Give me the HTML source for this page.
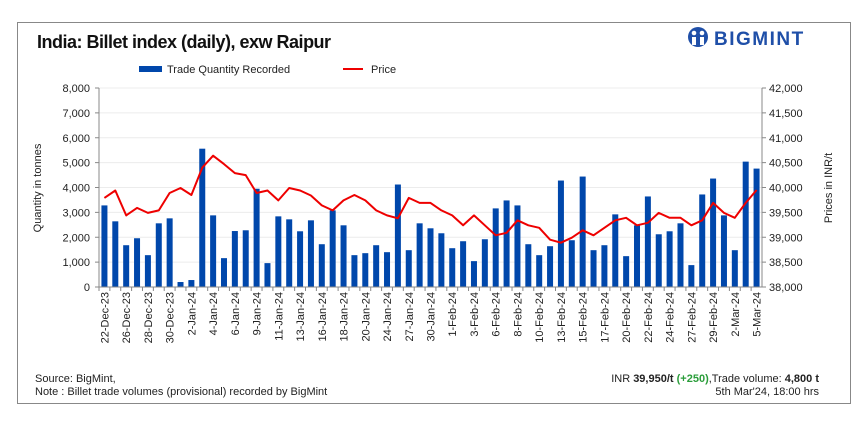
<!DOCTYPE html>
<html><head><meta charset="utf-8"><style>
body{margin:0;background:#fff;font-family:"Liberation Sans",sans-serif;}
svg text{font-family:"Liberation Sans",sans-serif;}
</style></head><body>
<svg id="chart" width="865" height="430" xmlns="http://www.w3.org/2000/svg">
<rect x="17.5" y="22.5" width="833" height="381" fill="#fff" stroke="#888" stroke-width="1"/>
<text x="37" y="48" font-size="18" font-weight="bold" fill="#111" letter-spacing="-0.5">India: Billet index (daily), exw Raipur</text>
<g>
<circle cx="698" cy="37" r="10" fill="#1f4fa8"/>
<circle cx="694" cy="33" r="2.3" fill="#fff"/><circle cx="702" cy="33" r="2.3" fill="#fff"/>
<rect x="692" y="37" width="4" height="8" fill="#fff"/><rect x="700" y="37" width="4" height="8" fill="#fff"/>
<text x="714" y="45" font-size="19" font-weight="bold" fill="#1f4fa8" letter-spacing="1.5">BIGMINT</text>
</g>
<g>
<rect x="139" y="66" width="23" height="6" fill="#0047ab"/>
<text x="167" y="73" font-size="11" fill="#222">Trade Quantity Recorded</text>
<rect x="343" y="68" width="20" height="2" fill="#e00"/>
<text x="371" y="73" font-size="11" fill="#222">Price</text>
</g>
<g id="grid"></g><g id="bars"></g><g id="axes"></g><g id="line"></g>
<text transform="translate(41,188) rotate(-90)" text-anchor="middle" font-size="11" fill="#222">Quantity in tonnes</text>
<text transform="translate(832,188) rotate(-90)" text-anchor="middle" font-size="11" fill="#222">Prices in INR/t</text>
<text x="35" y="382" font-size="11" fill="#222">Source: BigMint,</text>
<text x="35" y="395" font-size="11" fill="#222">Note : Billet trade volumes (provisional) recorded by BigMint</text>
<text x="819" y="382" text-anchor="end" font-size="11" fill="#222">INR <tspan font-weight="bold">39,950/t</tspan> <tspan fill="#2a9d3a" font-weight="bold">(+250)</tspan>,Trade volume: <tspan font-weight="bold">4,800 t</tspan></text>
<text x="819" y="395" text-anchor="end" font-size="11" fill="#222">5th Mar'24, 18:00 hrs</text>
</svg>
<script>
const categories=["22-Dec-23","23-Dec-23","26-Dec-23","27-Dec-23","28-Dec-23","29-Dec-23","30-Dec-23","1-Jan-24","2-Jan-24","3-Jan-24","4-Jan-24","5-Jan-24","6-Jan-24","8-Jan-24","9-Jan-24","10-Jan-24","11-Jan-24","12-Jan-24","13-Jan-24","15-Jan-24","16-Jan-24","17-Jan-24","18-Jan-24","19-Jan-24","20-Jan-24","23-Jan-24","24-Jan-24","25-Jan-24","27-Jan-24","29-Jan-24","30-Jan-24","31-Jan-24","1-Feb-24","2-Feb-24","3-Feb-24","5-Feb-24","6-Feb-24","7-Feb-24","8-Feb-24","9-Feb-24","10-Feb-24","12-Feb-24","13-Feb-24","14-Feb-24","15-Feb-24","16-Feb-24","17-Feb-24","19-Feb-24","20-Feb-24","21-Feb-24","22-Feb-24","23-Feb-24","24-Feb-24","26-Feb-24","27-Feb-24","28-Feb-24","29-Feb-24","1-Mar-24","2-Mar-24","4-Mar-24","5-Mar-24"];
const quantity=[3280,2640,1680,1960,1280,2560,2760,200,280,5560,2880,1160,2250,2280,3950,960,2840,2720,2240,2680,1720,3080,2480,1280,1360,1680,1400,4120,1480,2560,2360,2160,1560,1840,1040,1920,3160,3480,3280,1720,1280,1640,4280,1880,4440,1480,1680,2920,1240,2480,3640,2120,2240,2560,880,3720,4360,2880,1480,5040,4760];
const price=[39790,39940,39440,39590,39490,39540,39890,39990,39850,40400,40640,40470,40290,40250,39890,39940,39740,39990,39940,39840,39640,39540,39740,39850,39740,39540,39440,39380,39790,39690,39690,39540,39440,39240,39440,39240,39040,39090,39340,39240,39190,38950,38890,38990,39140,39040,39190,39340,39390,39240,39290,39490,39390,39390,39240,39340,39690,39490,39390,39690,39950];
const leftTicks=[0,1000,2000,3000,4000,5000,6000,7000,8000];
const rightTicks=[38000,38500,39000,39500,40000,40500,41000,41500,42000];
const NS="http://www.w3.org/2000/svg";
const X0=99,X1=762,Y0=287,Y1=88;
const step=(X1-X0)/categories.length;
function xc(i){return X0+step*(i+0.5);}
function yl(v){return Y0-(v-0)/8000*(Y0-Y1);}
function yr(v){return Y0-(v-38000)/4000*(Y0-Y1);}
function mk(tag,attrs,parent){const e=document.createElementNS(NS,tag);for(const k in attrs)e.setAttribute(k,attrs[k]);document.getElementById(parent).appendChild(e);return e;}
leftTicks.forEach((t,i)=>{
  if(i>0){const g=mk("line",{x1:X0,x2:X1,y1:yl(t),y2:yl(t),stroke:"#ececec","stroke-width":1},"grid");
  
  }
  const tx=mk("text",{x:X0-9,y:yl(t)+4,"text-anchor":"end","font-size":11,fill:"#222"},"axes");tx.textContent=t.toLocaleString("en-US");
  
  
  mk("line",{x1:X0-4,x2:X0,y1:yl(t),y2:yl(t),stroke:"#888"},"axes");
});
rightTicks.forEach(t=>{
  const tx=mk("text",{x:X1+7,y:yr(t)+4,"font-size":11,fill:"#222"},"axes");tx.textContent=t.toLocaleString("en-US");
  
  
  mk("line",{x1:X1,x2:X1+4,y1:yr(t),y2:yr(t),stroke:"#888"},"axes");
});
mk("line",{x1:X0,x2:X0,y1:Y1,y2:Y0,stroke:"#888"},"axes");
mk("line",{x1:X1,x2:X1,y1:Y1,y2:Y0,stroke:"#888"},"axes");
mk("line",{x1:X0,x2:X1,y1:Y0,y2:Y0,stroke:"#888"},"axes");
const bw=6;
categories.forEach((c,i)=>{
  const b=mk("rect",{x:xc(i)-bw/2,y:yl(quantity[i]),width:bw,height:Y0-yl(quantity[i]),fill:"#0047ab"},"bars");
  
  
  mk("line",{x1:X0+step*i,x2:X0+step*i,y1:Y0,y2:Y0+4,stroke:"#888"},"axes");
  if(i%2===0){
    const tx=mk("text",{transform:`translate(${xc(i)+4},${Y0+5}) rotate(-90)`,"text-anchor":"end","font-size":11,fill:"#222"},"axes");
    tx.textContent=c;
    
    
  }
});
const pts=price.map((p,i)=>xc(i).toFixed(1)+","+yr(p).toFixed(1)).join(" ");
const pl=mk("polyline",{points:pts,fill:"none",stroke:"#e00","stroke-width":2,"stroke-linejoin":"round"},"line");


</script>
</body></html>
